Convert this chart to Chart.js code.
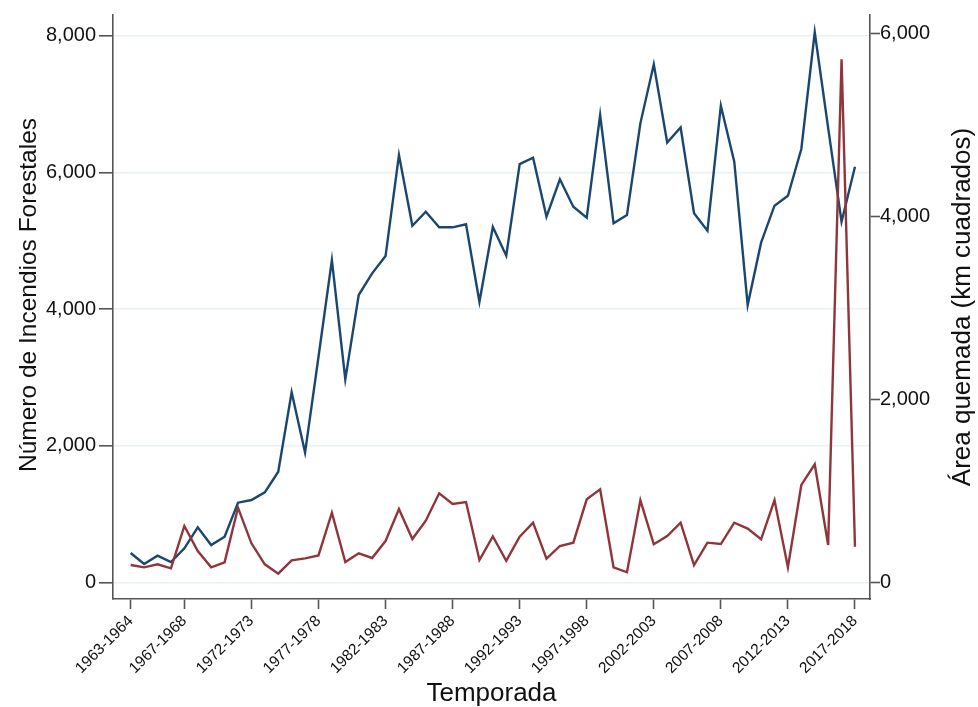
<!DOCTYPE html>
<html>
<head>
<meta charset="utf-8">
<script src="https://cdn.jsdelivr.net/npm/chart.js@4.4.1/dist/chart.umd.min.js"></script>
<style>
  html, body { margin: 0; padding: 0; background: #fff; }
  #wrap { width: 978px; height: 707px; position: relative; }
</style>
</head>
<body>
<div id="wrap"><canvas id="c" width="978" height="707"></canvas></div>
<script>
// ---- data ----
const seasons = [
  '1963-1964','1964-1965','1965-1966','1966-1967','1967-1968','1968-1969','1969-1970','1970-1971','1971-1972','1972-1973',
  '1973-1974','1974-1975','1975-1976','1976-1977','1977-1978','1978-1979','1979-1980','1980-1981','1981-1982','1982-1983',
  '1983-1984','1984-1985','1985-1986','1986-1987','1987-1988','1988-1989','1989-1990','1990-1991','1991-1992','1992-1993',
  '1993-1994','1994-1995','1995-1996','1996-1997','1997-1998','1998-1999','1999-2000','2000-2001','2001-2002','2002-2003',
  '2003-2004','2004-2005','2005-2006','2006-2007','2007-2008','2008-2009','2009-2010','2010-2011','2011-2012','2012-2013',
  '2013-2014','2014-2015','2015-2016','2016-2017','2017-2018'
];
const numIncendios = [
  434, 273, 395, 303, 503, 810, 551, 673, 1170, 1209,
  1322, 1623, 2785, 1903, 3300, 4717, 2973, 4206, 4523, 4776,
  6253, 5219, 5424, 5196, 5196, 5240, 4108, 5200, 4781, 6121,
  6213, 5351, 5898, 5497, 5336, 6838, 5254, 5376, 6716, 7579,
  6436, 6655, 5401, 5146, 6974, 6155, 4060, 4971, 5512, 5658,
  6341, 8047, 6650, 5278, 6082
];
const areaQuemada = [
  193, 168, 201, 157, 619, 346, 168, 223, 819, 430,
  201, 98, 244, 266, 298, 764, 226, 321, 270, 455,
  805, 477, 677, 976, 859, 881, 248, 506, 240, 502,
  655, 262, 401, 437, 910, 1020, 168, 114, 899, 420,
  510, 655, 193, 437, 422, 655, 590, 474, 903, 168,
  1067, 1293, 412, 5714, 393
];
const xTickLabels = ['1963-1964','1967-1968','1972-1973','1977-1978','1982-1983','1987-1988',
  '1992-1993','1997-1998','2002-2003','2007-2008','2012-2013','2017-2018'];
const leftTicks = [0, 2000, 4000, 6000, 8000];
const rightTicks = [0, 2000, 4000, 6000];
const titleX = 'Temporada';
const titleLeft = 'Número de Incendios Forestales';
const titleRight = 'Área quemada (km cuadrados)';

// ---- build ----
const FONT = "'Liberation Sans', Arial, Helvetica, sans-serif";
const AXIS = '#555555';
const TXT = '#111111';
const fmt = v => Number(v).toLocaleString('en-US');
const toPts = arr => arr.map((v, i) => ({ x: i, y: v }));
const xTickIdx = xTickLabels.map(l => seasons.indexOf(l));

// vertical axis titles, both reading bottom-to-top (as in the reference)
const sideTitlesPlugin = {
  id: 'sideTitles',
  afterDraw(chart) {
    const { ctx, chartArea } = chart;
    const mid = (chartArea.top + chartArea.bottom) / 2;
    const draw = (text, x, y, size) => {
      ctx.save();
      ctx.fillStyle = TXT;
      ctx.font = size + 'px ' + FONT;
      ctx.textAlign = 'center';
      ctx.textBaseline = 'middle';
      ctx.translate(x, y);
      ctx.rotate(-Math.PI / 2);
      ctx.fillText(text, 0, 0);
      ctx.restore();
    };
    draw(titleLeft, 29.5, mid - 12, 24.5);
    draw(titleRight, 963, mid, 26);
  }
};

new Chart(document.getElementById('c'), {
  type: 'line',
  data: {
    datasets: [
      {
        label: titleLeft,
        data: toPts(numIncendios),
        yAxisID: 'y',
        borderColor: '#1a476f',
        borderWidth: 2.4,
        pointRadius: 0,
        tension: 0,
        order: 1
      },
      {
        label: titleRight,
        data: toPts(areaQuemada),
        yAxisID: 'y2',
        borderColor: '#90353b',
        borderWidth: 2.4,
        pointRadius: 0,
        tension: 0,
        order: 0
      }
    ]
  },
  options: {
    responsive: false,
    animation: false,
    layout: { padding: { top: 15, left: 0, right: 0, bottom: 0 } },
    plugins: { legend: { display: false }, tooltip: { enabled: false } },
    scales: {
      x: {
        type: 'linear',
        position: 'bottom',
        min: -1.32,
        max: 55.12,
        afterFit: s => { s.height = 108; },
        afterBuildTicks: s => { s.ticks = xTickIdx.map(v => ({ value: v })); },
        grid: { drawOnChartArea: false, drawTicks: true, tickLength: 10, tickColor: AXIS, tickWidth: 1.6 },
        border: { display: true, color: AXIS, width: 1.6 },
        ticks: {
          autoSkip: false, minRotation: 45, maxRotation: 45, padding: 3,
          color: TXT, font: { family: FONT, size: 15.5 },
          callback: v => seasons[v] ?? ''
        },
        title: { display: true, text: titleX, color: TXT, font: { family: FONT, size: 26 }, padding: { top: 0, bottom: -2 } }
      },
      y: {
        position: 'left',
        min: -238,
        max: 8300,
        afterFit: s => { s.width = 113; },
        afterBuildTicks: s => { s.ticks = leftTicks.map(v => ({ value: v })); },
        grid: { color: '#e9f1f3', lineWidth: 1.6, drawTicks: true, tickLength: 14, tickColor: AXIS, tickWidth: 1.6 },
        border: { display: true, color: AXIS, width: 1.6 },
        ticks: { padding: 3, color: TXT, font: { family: FONT, size: 20 }, callback: v => fmt(v) },
        title: { display: false }
      },
      y2: {
        position: 'right',
        min: -178,
        max: 6198,
        afterFit: s => { s.width = 108; },
        afterBuildTicks: s => { s.ticks = rightTicks.map(v => ({ value: v })); },
        grid: { drawOnChartArea: false, drawTicks: true, tickLength: 10, tickColor: AXIS, tickWidth: 1.6 },
        border: { display: true, color: AXIS, width: 1.6 },
        ticks: { padding: 0, color: TXT, font: { family: FONT, size: 20 }, callback: v => fmt(v) },
        title: { display: false }
      }
    }
  },
  plugins: [sideTitlesPlugin]
});
</script>
</body>
</html>
